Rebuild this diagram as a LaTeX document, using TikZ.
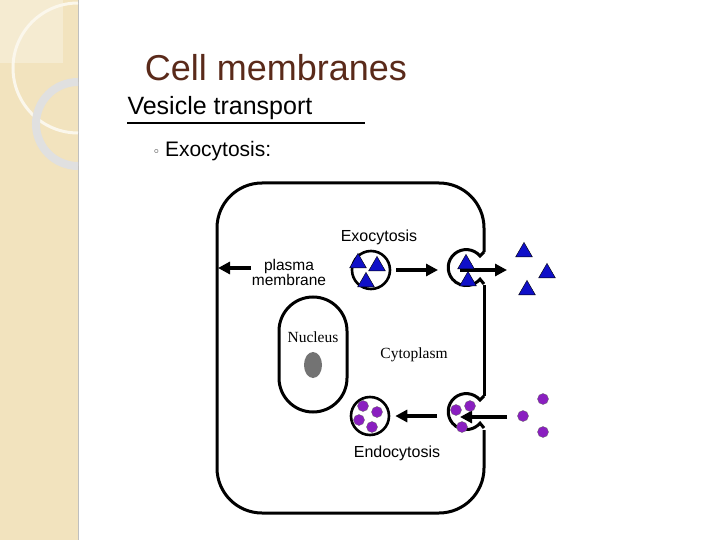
\documentclass[tikz,border=0pt]{standalone}
\usepackage{fontspec}
\setmainfont{Liberation Sans}
\newfontfamily\serifx{Liberation Serif}
\usetikzlibrary{arrows.meta,shapes.geometric}
\definecolor{beige}{HTML}{F2E3BE}
\definecolor{titlec}{HTML}{5A2A1A}
\definecolor{vio}{HTML}{8A1FC0}
\definecolor{tri}{HTML}{1010C8}
\begin{document}
\begin{tikzpicture}[x=1pt,y=-1pt,
  mem/.style={line width=3pt},
  arr/.style={line width=3.4pt,-{Triangle[length=12pt,width=12pt]}},
  tr/.style={fill=tri,draw=black,line width=0.4pt,regular polygon,regular polygon sides=3,inner sep=3.4pt},
  dot/.style={circle,fill=vio,draw=black!60,line width=0.3pt,inner sep=0pt,minimum size=11pt},
  lab/.style={font=\fontsize{16}{17}\selectfont}]
\useasboundingbox (0,0) rectangle (720,540);
\fill[white] (0,0) rectangle (720,540);
% left panel
\fill[beige] (0,0) rectangle (78,540);
\draw[black!25,line width=1pt] (78,0) -- (78,540);
\fill[white,opacity=0.3] (0,0) rectangle (63,63);
\draw[white!70!beige,line width=3pt] (78,3) arc[start angle=-90,end angle=-270,radius=65];
\draw[black!12,line width=8pt] (78,82) arc[start angle=-90,end angle=-270,radius=42];
% titles
\node[text=titlec,font=\fontsize{36}{40}\selectfont] (t) at (276,68) {Cell membranes};
\node[font=\fontsize{25}{28}\selectfont,anchor=west] (v) at (124,108) {Vesicle transport};
\draw[line width=1.5pt] (127,123) -- (365,123);
\node[font=\fontsize{21}{24}\selectfont,anchor=west] (e) at (150,151) {{\color{black!60}\fontsize{16}{16}\selectfont◦} Exocytosis:};
% cell
\draw[mem,rounded corners=45] (484,252) -- (484,183) -- (217,183) -- (217,513) -- (484,513) -- (484,430);
\draw[mem] (484,285) -- (484,396);
\draw[mem] (484,252) -- (480,256) arc[start angle=-40,end angle=-320,radius=18] -- (484,284);
\draw[mem] (484,396) -- (480,400) arc[start angle=-40,end angle=-320,radius=18] -- (484,428);
\draw[mem,rounded corners=34] (279,297) rectangle (347,412);
\fill[black!55] (313,365) ellipse[x radius=9,y radius=13];
\node[circle,draw,line width=2.6pt,minimum size=38pt,inner sep=0pt] (ev) at (371,270) {};
\node[circle,draw,line width=2.6pt,minimum size=38pt,inner sep=0pt] (nv) at (370,416) {};
\coordinate (ep) at (438,270);
\coordinate (np) at (437,416);
% labels
\node[lab] (lx) at (379,237) {Exocytosis};
\node[lab,align=center,inner sep=0pt,font=\fontsize{15.5}{15}\selectfont] (pm) at (289,272) {plasma\\membrane};
\node[font=\serifx\fontsize{15.5}{16}\selectfont] (nu) at (313,337) {Nucleus};
\node[font=\serifx\fontsize{15.5}{16}\selectfont] (cy) at (414,355) {Cytoplasm};
\node[lab] (lend) at (397,453) {Endocytosis};
\coordinate (pmtip) at (218,268);
\coordinate (pmtail) at (251,268);
\coordinate (out1) at (507,270);
\coordinate (in1) at (507,417);
\coordinate (in1t) at (460,417);
% arrows
\draw[arr] (pmtail) -- (pmtip);
\draw[arr] ([xshift=5pt]ev.east) -- (ep);
\draw[arr] (460,270) -- (out1);
\draw[arr] (in1) -- (in1t);
\draw[arr] (np) -- ([xshift=5pt]nv.east);
% triangles
\foreach \p in {(358,263),(377,266),(366,282),(466,264),(468,281),(524,252),(547,273),(527,290)}
  \node[tr] at \p {};
% dots
\foreach \p in {(363,406),(377,412),(359,420),(372,427),(456,410),(470,406),(462,427),(543,399),(523,416),(543,432)}
  \node[dot] at \p {};
\end{tikzpicture}
\end{document}
